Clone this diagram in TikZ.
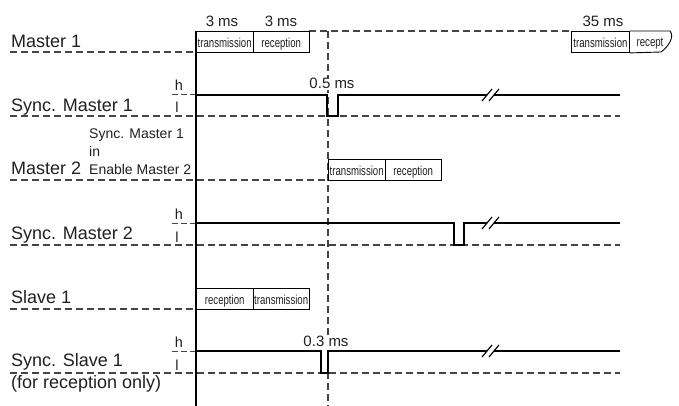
\documentclass[tikz,border=0pt]{standalone}
\usepackage{fontspec}
\setmainfont{Liberation Sans}
\newfontfamily\condfont[FakeStretch=0.74]{Liberation Sans}
\definecolor{txt}{HTML}{231F20}
\definecolor{dgray}{HTML}{444444}
\begin{document}
\begin{tikzpicture}[x=1pt,y=-1pt,
  lbl/.style={anchor=base west, inner sep=0pt, font=\fontsize{18}{20}\selectfont, text=txt},
  smalllbl/.style={anchor=base west, inner sep=0pt, font=\fontsize{14}{16}\selectfont, text=txt},
  hl/.style={anchor=base, inner sep=0pt, font=\fontsize{14.5}{16}\selectfont, text=txt},
  tim/.style={anchor=base, inner sep=1pt, font=\fontsize{15}{16}\selectfont, text=txt, fill=white},
  seg/.style={draw=black, line width=0.9pt, minimum width=56.5pt, minimum height=21pt, inner sep=0pt,
              text height=12pt, text depth=1pt,
              font=\condfont\fontsize{13}{14}\selectfont, text=txt, anchor=north west},
  baseln/.style={draw=dgray, line width=1.1pt, dash pattern=on 7pt off 4pt},
  tick/.style={draw=dgray, line width=1pt, dash pattern=on 6pt off 3pt},
  sig/.style={draw=black, line width=2.8pt, line join=miter},
  brk/.style={draw=black, line width=1.2pt},
  axis/.style={draw=black, line width=1.1pt}
]
\useasboundingbox (0,0) rectangle (679,406);

% ---------- dashed reference lines ----------
\draw[baseln] (10,52) -- (196,52);
\draw[baseln] (309,31) -- (571,31);
\draw[baseln] (328,31) -- (328,406);
\draw[baseln] (10,116) -- (620,116);
\draw[baseln] (10,180) -- (328,180);
\draw[baseln] (10,245) -- (620,245);
\draw[baseln] (10,309) -- (196,309);
\draw[baseln] (10,373) -- (620,373);

\draw[tick] (172,95) -- (196,95);
\draw[tick] (172,223) -- (196,223);
\draw[tick] (172,351) -- (196,351);

% ---------- main time axis ----------
\draw[axis] (196,31) -- (196,406);

% ---------- Master 1 ----------
\node[lbl] (m1) at (11,48) {Master 1};
\node[seg] (m1t) at (196,31) {transmission};
\node[seg] (m1r) at (252.5,31) {reception};
\node[tim] (m1a) at (222,27) {3 ms};
\node[tim] (m1b) at (281,27) {3 ms};

\node[seg, minimum width=58pt] (m1t2) at (571,31) {transmission};
\draw[line width=0.9pt] (m1t2.north east) -- (670,31)
   .. controls (675,37) and (668,47) .. (661,52) -- (m1t2.south east);
\node[anchor=base, inner sep=0pt, font=\condfont\fontsize{13}{14}\selectfont, text=txt] (m1rc) at (650,47) {recept};
\node[tim] (m1c) at (603,27) {35 ms};

% ---------- Sync. Master 1 ----------
\node[lbl] (s1) at (11,112) {Sync. Master 1};
\node[hl] (s1h) at (179,91) {h};
\node[hl] (s1l) at (177,113) {l};
\draw[sig] (196,95) -- (327,95) -- (327,116) -- (338,116) -- (338,95) -- (487,95);
\draw[sig] (494,95) -- (620,95);
\draw[brk] (482,101) -- (492,89);
\draw[brk] (489,101) -- (499,89);
\node[tim] (s1t) at (332,89) {0.5 ms};

% ---------- Master 2 ----------
\node[smalllbl] (e1) at (89,139) {Sync. Master 1};
\node[smalllbl] (e2) at (89,157) {in};
\node[smalllbl] (e3) at (89,175) {Enable Master 2};
\node[lbl] (m2) at (11,175) {Master 2};
\node[seg] (m2t) at (328,159) {transmission};
\node[seg] (m2r) at (384.5,159) {reception};

% ---------- Sync. Master 2 ----------
\node[lbl] (s2) at (11,239) {Sync. Master 2};
\node[hl] (s2h) at (179,219) {h};
\node[hl] (s2l) at (177,242) {l};
\draw[sig] (196,223) -- (454,223) -- (454,245) -- (464,245) -- (464,223) -- (487,223);
\draw[sig] (494,223) -- (620,223);
\draw[brk] (482,229) -- (492,217);
\draw[brk] (489,229) -- (499,217);

% ---------- Slave 1 ----------
\node[lbl] (sl) at (11,303) {Slave 1};
\node[seg] (slr) at (196,288) {reception};
\node[seg] (slt) at (252.5,288) {transmission};

% ---------- Sync. Slave 1 ----------
\node[lbl] (ss) at (11,366) {Sync. Slave 1};
\node[lbl] (ss2) at (11,388) {(for reception only)};
\node[hl] (ssh) at (179,347) {h};
\node[hl] (ssl) at (177,370) {l};
\draw[sig] (196,351) -- (321,351) -- (321,373) -- (328,373) -- (328,351) -- (487,351);
\draw[sig] (494,351) -- (620,351);
\draw[brk] (482,357) -- (492,345);
\draw[brk] (489,357) -- (499,345);
\node[tim] (sst) at (326,346) {0.3 ms};

\end{tikzpicture}
\end{document}
